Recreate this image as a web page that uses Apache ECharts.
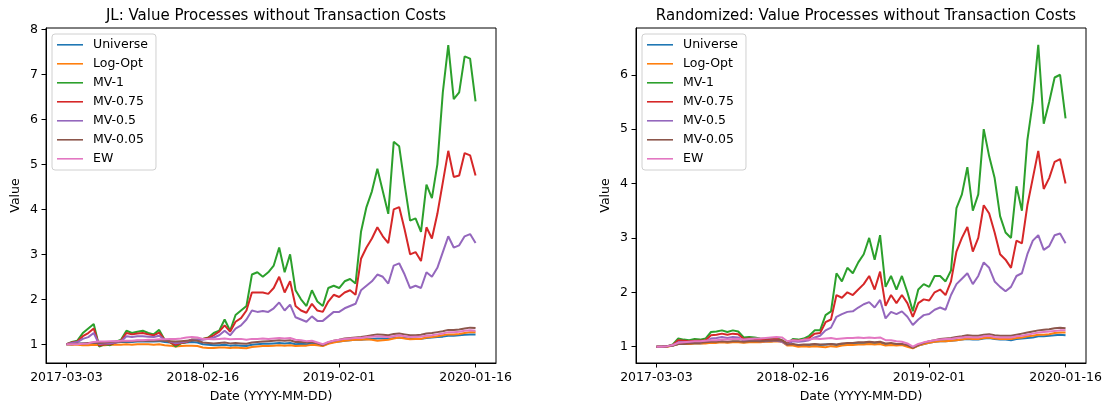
<!DOCTYPE html>
<html>
<head>
<meta charset="utf-8">
<script src="https://cdn.jsdelivr.net/npm/echarts@6/dist/echarts.min.js"></script>
<style>
  html, body { margin: 0; padding: 0; background: #fff; }
  #chart { width: 1107px; height: 408px; }
</style>
</head>
<body>
<div id="chart"></div>
<script>
// sampling grid: days since 2017-03-03, every two weeks
const dayOffsets = Array.from({ length: 76 }, (_, i) => i * 14);
const xTickDays = [0, 350, 700, 1050];
const xTickLabels = ['2017-03-03', '2018-02-16', '2019-02-01', '2020-01-16'];
const yTicksJL = [1, 2, 3, 4, 5, 6, 7, 8];
const yTicksRand = [1, 2, 3, 4, 5, 6];

const seriesNames = ['Universe', 'Log-Opt', 'MV-1', 'MV-0.75', 'MV-0.5', 'MV-0.05', 'EW'];
const colors = ['#1f77b4', '#ff7f0e', '#2ca02c', '#d62728', '#9467bd', '#8c564b', '#e377c2'];

// JL panel
const jlUniverse = [1.0, 1.0, 1.01, 1.02, 1.02, 1.03, 1.02, 1.03, 1.03, 1.04, 1.05, 1.05, 1.05, 1.06, 1.06, 1.07, 1.06, 1.07, 1.05, 1.04,
  1.02, 1.03, 1.04, 1.05, 1.04, 1.0, 0.99, 0.98, 0.98, 0.99, 0.97, 0.98, 0.97, 0.96, 0.99, 1.0, 1.01, 1.01, 1.02, 1.03,
  1.02, 1.03, 1.0, 1.01, 1.0, 1.02, 0.99, 0.97, 1.02, 1.05, 1.06, 1.08, 1.09, 1.1, 1.1, 1.11, 1.12, 1.13, 1.13, 1.12,
  1.14, 1.15, 1.14, 1.12, 1.13, 1.12, 1.14, 1.15, 1.16, 1.17, 1.19, 1.19, 1.2, 1.21, 1.22, 1.22];
const jlLogOpt = [1.0, 0.99, 0.99, 0.98, 0.98, 0.99, 0.98, 0.98, 0.99, 0.99, 0.99, 1.0, 0.99, 1.0, 1.0, 1.0, 0.99, 1.0, 0.98, 0.97,
  0.95, 0.96, 0.97, 0.97, 0.96, 0.93, 0.92, 0.92, 0.93, 0.93, 0.92, 0.93, 0.92, 0.91, 0.94, 0.95, 0.96, 0.96, 0.97, 0.98,
  0.97, 0.98, 0.96, 0.97, 0.97, 0.99, 0.98, 0.96, 1.01, 1.04, 1.06, 1.08, 1.09, 1.1, 1.1, 1.11, 1.1, 1.08, 1.09, 1.1,
  1.13, 1.15, 1.13, 1.11, 1.12, 1.12, 1.15, 1.16, 1.18, 1.2, 1.22, 1.22, 1.23, 1.25, 1.27, 1.27];
const jlMV1 = [1.0, 1.05, 1.08, 1.25, 1.35, 1.45, 0.95, 1.0, 0.98, 1.05, 1.1, 1.3, 1.25, 1.28, 1.3, 1.25, 1.22, 1.32, 1.1, 1.05,
  0.95, 1.02, 1.05, 1.1, 1.1, 1.12, 1.15, 1.25, 1.3, 1.55, 1.3, 1.65, 1.75, 1.85, 2.55, 2.6, 2.5, 2.6, 2.75, 3.15,
  2.6, 3.0, 2.2, 2.0, 1.85, 2.2, 1.95, 1.85, 2.25, 2.3, 2.25, 2.4, 2.45, 2.35, 3.5, 4.05, 4.4, 4.9, 4.4, 3.9,
  5.5, 5.4, 4.55, 3.75, 3.8, 3.5, 4.55, 4.25, 5.0, 6.6, 7.65, 6.45, 6.6, 7.4, 7.35, 6.4];
const jlMV075 = [1.0, 1.04, 1.06, 1.18, 1.25, 1.35, 0.97, 1.0, 1.0, 1.04, 1.08, 1.25, 1.22, 1.24, 1.25, 1.22, 1.2, 1.26, 1.1, 1.05,
  0.98, 1.03, 1.05, 1.1, 1.1, 1.12, 1.14, 1.2, 1.28, 1.42, 1.28, 1.5, 1.58, 1.75, 2.15, 2.15, 2.15, 2.12, 2.25, 2.5,
  2.15, 2.4, 1.85, 1.75, 1.7, 1.9, 1.75, 1.72, 1.95, 2.1, 2.05, 2.15, 2.2, 2.1, 2.9, 3.15, 3.35, 3.6, 3.4, 3.25,
  4.0, 4.05, 3.55, 3.0, 3.05, 2.85, 3.6, 3.35, 3.9, 4.6, 5.3, 4.72, 4.75, 5.25, 5.2, 4.75];
const jlMV05 = [1.0, 1.03, 1.05, 1.12, 1.16, 1.25, 1.0, 1.02, 1.02, 1.04, 1.06, 1.18, 1.16, 1.18, 1.18, 1.17, 1.16, 1.19, 1.1, 1.06,
  1.02, 1.04, 1.06, 1.1, 1.1, 1.1, 1.12, 1.15, 1.2, 1.3, 1.2, 1.35, 1.42, 1.55, 1.75, 1.72, 1.74, 1.72, 1.8, 1.93,
  1.75, 1.88, 1.6, 1.55, 1.5, 1.62, 1.52, 1.52, 1.62, 1.72, 1.72, 1.8, 1.85, 1.9, 2.2, 2.3, 2.4, 2.55, 2.5, 2.35,
  2.75, 2.8, 2.55, 2.25, 2.3, 2.25, 2.6, 2.5, 2.7, 3.05, 3.4, 3.15, 3.2, 3.4, 3.45, 3.25];
const jlMV005 = [1.0, 1.0, 1.01, 1.02, 1.03, 1.04, 1.03, 1.04, 1.05, 1.06, 1.06, 1.07, 1.07, 1.08, 1.08, 1.08, 1.08, 1.09, 1.08, 1.07,
  1.06, 1.07, 1.08, 1.09, 1.08, 1.04, 1.03, 1.02, 1.03, 1.04, 1.02, 1.03, 1.02, 1.01, 1.04, 1.05, 1.06, 1.07, 1.08, 1.09,
  1.08, 1.09, 1.05, 1.05, 1.04, 1.05, 1.02, 0.98, 1.04, 1.08, 1.1, 1.13, 1.14, 1.15, 1.16, 1.18, 1.2, 1.22, 1.21, 1.2,
  1.23, 1.24, 1.22, 1.2, 1.2, 1.21, 1.24, 1.25, 1.27, 1.29, 1.32, 1.32, 1.33, 1.35, 1.37, 1.36];
const jlEW = [1.0, 1.0, 1.0, 1.01, 1.02, 1.05, 1.06, 1.06, 1.07, 1.07, 1.08, 1.08, 1.08, 1.09, 1.09, 1.1, 1.1, 1.11, 1.11, 1.12,
  1.12, 1.13, 1.15, 1.16, 1.15, 1.12, 1.12, 1.11, 1.12, 1.13, 1.11, 1.12, 1.12, 1.1, 1.12, 1.12, 1.13, 1.12, 1.13, 1.14,
  1.13, 1.14, 1.1, 1.09, 1.07, 1.08, 1.04, 1.0, 1.05, 1.08, 1.1, 1.12, 1.13, 1.14, 1.14, 1.16, 1.17, 1.18, 1.17, 1.16,
  1.18, 1.2, 1.18, 1.16, 1.17, 1.17, 1.19, 1.2, 1.22, 1.24, 1.27, 1.27, 1.28, 1.3, 1.31, 1.3];

// Randomized panel
const rdUniverse = [1.0, 1.0, 1.01, 1.02, 1.05, 1.05, 1.05, 1.06, 1.06, 1.07, 1.08, 1.08, 1.09, 1.08, 1.09, 1.09, 1.08, 1.09, 1.09, 1.09,
  1.1, 1.1, 1.11, 1.1, 1.03, 1.04, 1.02, 1.03, 1.03, 1.04, 1.03, 1.04, 1.05, 1.03, 1.04, 1.05, 1.05, 1.06, 1.06, 1.07,
  1.06, 1.07, 1.04, 1.05, 1.04, 1.04, 1.02, 0.98, 1.02, 1.05, 1.07, 1.09, 1.1, 1.1, 1.11, 1.12, 1.13, 1.14, 1.13, 1.13,
  1.15, 1.16, 1.14, 1.13, 1.13, 1.12, 1.14, 1.15, 1.16, 1.17, 1.19, 1.19, 1.2, 1.21, 1.22, 1.21];
const rdLogOpt = [1.0, 1.0, 1.0, 1.02, 1.05, 1.05, 1.05, 1.06, 1.06, 1.06, 1.07, 1.07, 1.08, 1.07, 1.08, 1.08, 1.07, 1.08, 1.08, 1.08,
  1.09, 1.09, 1.1, 1.09, 1.02, 1.02, 1.0, 1.01, 1.0, 1.01, 1.0, 0.99, 1.01, 1.0, 1.02, 1.03, 1.03, 1.04, 1.04, 1.05,
  1.04, 1.05, 1.02, 1.03, 1.02, 1.03, 1.0, 0.97, 1.02, 1.05, 1.07, 1.09, 1.1, 1.1, 1.11, 1.12, 1.13, 1.15, 1.14, 1.14,
  1.16, 1.17, 1.15, 1.14, 1.14, 1.14, 1.16, 1.17, 1.19, 1.2, 1.22, 1.22, 1.23, 1.25, 1.26, 1.26];
const rdMV1 = [1.0, 1.0, 1.01, 1.04, 1.15, 1.13, 1.12, 1.14, 1.13, 1.15, 1.27, 1.28, 1.3, 1.27, 1.3, 1.28, 1.17, 1.18, 1.17, 1.15,
  1.14, 1.15, 1.16, 1.12, 1.06, 1.14, 1.13, 1.15, 1.2, 1.3, 1.3, 1.58, 1.65, 2.35, 2.2, 2.45, 2.35, 2.55, 2.7, 3.0,
  2.6, 3.05, 2.1, 2.3, 2.05, 2.3, 2.0, 1.65, 2.05, 2.15, 2.1, 2.3, 2.3, 2.2, 2.4, 3.55, 3.8, 4.3, 3.5, 3.8,
  5.0, 4.5, 4.1, 3.4, 3.1, 3.0, 3.95, 3.5, 4.8, 5.5, 6.55, 5.1, 5.5, 5.95, 6.0, 5.2];
const rdMV075 = [1.0, 1.0, 1.01, 1.03, 1.12, 1.11, 1.1, 1.11, 1.11, 1.12, 1.21, 1.22, 1.24, 1.22, 1.24, 1.23, 1.14, 1.15, 1.14, 1.13,
  1.12, 1.13, 1.14, 1.11, 1.05, 1.12, 1.11, 1.13, 1.16, 1.24, 1.25, 1.45, 1.5, 1.95, 1.9, 2.0, 1.95, 2.05, 2.15, 2.3,
  2.05, 2.38, 1.75, 1.95, 1.8, 1.95, 1.8, 1.55, 1.8, 1.87, 1.85, 2.0, 2.05, 1.95, 2.2, 2.75, 3.0, 3.2, 2.75, 3.0,
  3.6, 3.45, 3.1, 2.7, 2.6, 2.45, 2.95, 2.9, 3.6, 4.1, 4.6, 3.9, 4.1, 4.4, 4.45, 4.0];
const rdMV05 = [1.0, 1.0, 1.01, 1.02, 1.08, 1.08, 1.07, 1.08, 1.08, 1.09, 1.15, 1.16, 1.18, 1.16, 1.18, 1.17, 1.11, 1.12, 1.11, 1.1,
  1.1, 1.11, 1.11, 1.09, 1.04, 1.1, 1.09, 1.1, 1.12, 1.17, 1.2, 1.3, 1.35, 1.55, 1.6, 1.64, 1.65, 1.72, 1.78, 1.82,
  1.72, 1.86, 1.52, 1.64, 1.6, 1.65, 1.55, 1.4, 1.5, 1.58, 1.6, 1.68, 1.72, 1.68, 1.95, 2.15, 2.25, 2.35, 2.15, 2.3,
  2.55, 2.45, 2.2, 2.1, 2.02, 2.1, 2.3, 2.35, 2.7, 2.95, 3.05, 2.78, 2.85, 3.05, 3.08, 2.9];
const rdMV005 = [1.0, 1.0, 1.01, 1.02, 1.05, 1.05, 1.06, 1.07, 1.07, 1.08, 1.09, 1.09, 1.1, 1.09, 1.1, 1.1, 1.09, 1.1, 1.1, 1.1,
  1.11, 1.11, 1.12, 1.11, 1.04, 1.05, 1.03, 1.04, 1.04, 1.05, 1.04, 1.04, 1.05, 1.04, 1.06, 1.07, 1.07, 1.08, 1.08, 1.09,
  1.08, 1.09, 1.06, 1.07, 1.05, 1.05, 1.03, 0.98, 1.03, 1.07, 1.1, 1.12, 1.14, 1.15, 1.16, 1.18, 1.19, 1.21, 1.2, 1.2,
  1.22, 1.23, 1.21, 1.2, 1.2, 1.2, 1.22, 1.24, 1.26, 1.28, 1.3, 1.31, 1.32, 1.34, 1.35, 1.34];
const rdEW = [1.0, 1.0, 1.01, 1.03, 1.07, 1.08, 1.09, 1.1, 1.1, 1.11, 1.12, 1.12, 1.13, 1.13, 1.14, 1.14, 1.13, 1.14, 1.15, 1.15,
  1.16, 1.17, 1.18, 1.17, 1.1, 1.12, 1.11, 1.13, 1.13, 1.15, 1.14, 1.15, 1.16, 1.14, 1.15, 1.16, 1.16, 1.17, 1.16, 1.17,
  1.16, 1.17, 1.12, 1.12, 1.1, 1.09, 1.06, 1.0, 1.05, 1.08, 1.1, 1.12, 1.13, 1.14, 1.14, 1.16, 1.17, 1.18, 1.17, 1.17,
  1.19, 1.2, 1.18, 1.17, 1.17, 1.17, 1.19, 1.2, 1.22, 1.24, 1.26, 1.27, 1.28, 1.29, 1.3, 1.3];

const jlData = [jlUniverse, jlLogOpt, jlMV1, jlMV075, jlMV05, jlMV005, jlEW];
const rdData = [rdUniverse, rdLogOpt, rdMV1, rdMV075, rdMV05, rdMV005, rdEW];

const FONT = 'DejaVu Sans';
const chart = echarts.init(document.getElementById('chart'));

const pairs = (vals) => vals.map((v, i) => [dayOffsets[i], v]);

const makeX = (gridIndex) => ({
  type: 'value',
  gridIndex,
  min: -52.5,
  max: 1102.5,
  splitLine: { show: false },
  axisLine: { onZero: false, lineStyle: { color: '#000', width: 1 } },
  axisTick: { customValues: xTickDays, length: 4.5, lineStyle: { color: '#000' } },
  axisLabel: {
    customValues: xTickDays,
    formatter: (v) => xTickLabels[xTickDays.indexOf(v)] || '',
    color: '#000', fontSize: 12.5, fontFamily: FONT, margin: 8
  },
  name: 'Date (YYYY-MM-DD)',
  nameLocation: 'middle',
  nameGap: 27,
  nameTextStyle: { color: '#000', fontSize: 12.5, fontFamily: FONT }
});

const makeY = (gridIndex, min, max, ticks) => ({
  type: 'value',
  gridIndex,
  min, max,
  splitLine: { show: false },
  axisLine: { show: true, onZero: false, lineStyle: { color: '#000', width: 1 } },
  axisTick: { show: true, customValues: ticks, length: 4.5, lineStyle: { color: '#000' } },
  axisLabel: { customValues: ticks, color: '#000', fontSize: 12.5, fontFamily: FONT, margin: 8 },
  name: 'Value',
  nameLocation: 'middle',
  nameRotate: 90,
  nameGap: 24,
  nameTextStyle: { color: '#000', fontSize: 12.5, fontFamily: FONT }
});

const makeLegend = (left) => ({
  orient: 'vertical',
  left, top: 34,
  padding: [3, 8, 4, 5],
  itemGap: 4,
  itemWidth: 26,
  itemHeight: 15,
  icon: 'path://M0,7 L26,7 L26,8.6 L0,8.6 Z M0,0 M26,15',
  borderColor: '#d0d0d0',
  borderWidth: 1,
  borderRadius: 3,
  backgroundColor: 'rgba(255,255,255,0.8)',
  textStyle: { color: '#000', fontSize: 12.5, fontFamily: FONT, padding: [0, 0, 0, 5] },
  data: seriesNames
});

const makeSeries = (data, idx) => data.map((vals, k) => ({
  name: seriesNames[k],
  type: 'line',
  xAxisIndex: idx,
  yAxisIndex: idx,
  data: pairs(vals),
  showSymbol: false,
  symbol: 'none',
  color: colors[k],
  lineStyle: { width: 2, color: colors[k] },
  emphasis: { disabled: true }
}));

chart.setOption({
  animation: false,
  backgroundColor: '#fff',
  title: [
    { text: 'JL: Value Processes without Transaction Costs', left: 271, top: 4, textAlign: 'center',
      textStyle: { color: '#000', fontSize: 15, fontWeight: 'normal', fontFamily: FONT } },
    { text: 'Randomized: Value Processes without Transaction Costs', left: 861, top: 4, textAlign: 'center',
      textStyle: { color: '#000', fontSize: 15, fontWeight: 'normal', fontFamily: FONT } }
  ],
  legend: [makeLegend(52), makeLegend(642)],
  grid: [
    { left: 46, top: 28, width: 450, height: 335, show: true, borderColor: '#000', borderWidth: 1, backgroundColor: 'transparent' },
    { left: 636, top: 28, width: 450, height: 335, show: true, borderColor: '#000', borderWidth: 1, backgroundColor: 'transparent' }
  ],
  xAxis: [makeX(0), makeX(1)],
  yAxis: [makeY(0, 0.584, 8.03, yTicksJL), makeY(1, 0.70, 6.86, yTicksRand)],
  series: [...makeSeries(jlData, 0), ...makeSeries(rdData, 1)]
});
</script>
</body>
</html>
